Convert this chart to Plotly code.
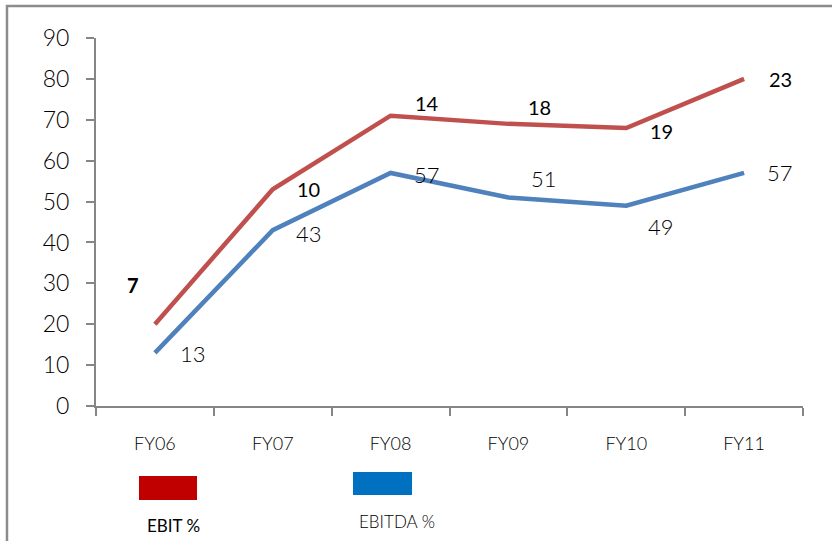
import plotly.graph_objects as go

categories = ["FY06", "FY07", "FY08", "FY09", "FY10", "FY11"]
ebit_values = [20, 53, 71, 69, 68, 80]
ebit_labels = ["7", "10", "14", "18", "19", "23"]
ebitda_values = [13, 43, 57, 51, 49, 57]
ebitda_labels = ["13", "43", "57", "51", "49", "57"]
y_ticks = [0, 10, 20, 30, 40, 50, 60, 70, 80, 90]

RED = "#C0504D"
BLUE = "#4F81BD"
FONT = "Lato, 'Open Sans', sans-serif"

fig = go.Figure()
fig.add_trace(go.Scatter(x=categories, y=ebit_values, mode="lines",
                         line=dict(color=RED, width=4.5), name="EBIT %", hoverinfo="skip"))
fig.add_trace(go.Scatter(x=categories, y=ebitda_values, mode="lines",
                         line=dict(color=BLUE, width=4.5), name="EBITDA %", hoverinfo="skip"))

# label offsets (pixels) relative to the data point
ebit_shift = [(-22, 39), (36, 0), (36, 13), (31, 17), (35, -3), (36, 0)]
ebitda_shift = [(38, -1), (36, -3), (36, -2), (36, 19), (35, -21), (36, 0)]

annotations = []
for i, (c, v, t, (dx, dy)) in enumerate(zip(categories, ebit_values, ebit_labels, ebit_shift)):
    annotations.append(dict(x=c, y=v, text=t, showarrow=False, xshift=dx, yshift=dy,
                            font=dict(family=FONT, size=20, color="#000",
                                      weight=700 if i == 0 else 400),
                            xanchor="center", yanchor="middle"))
for c, v, t, (dx, dy) in zip(categories, ebitda_values, ebitda_labels, ebitda_shift):
    annotations.append(dict(x=c, y=v, text=t, showarrow=False, xshift=dx, yshift=dy,
                            font=dict(family=FONT, size=22, color="#000", weight=300),
                            xanchor="center", yanchor="middle"))

# legend texts
annotations.append(dict(xref="paper", yref="paper", x=0.109, y=-0.3234, text="EBIT %",
                        showarrow=False, font=dict(family=FONT, size=17, color="#000", weight=400),
                        xanchor="center", yanchor="middle"))
annotations.append(dict(xref="paper", yref="paper", x=0.4257, y=-0.3125, text="EBITDA %",
                        showarrow=False, font=dict(family=FONT, size=17, color="#000", weight=300),
                        xanchor="center", yanchor="middle"))

shapes = [
    dict(type="rect", xref="paper", yref="paper", x0=0.0608, x1=0.1429, y0=-0.2554, y1=-0.1902,
         fillcolor="#C00000", line=dict(width=0)),
    dict(type="rect", xref="paper", yref="paper", x0=0.3635, x1=0.447, y0=-0.2418, y1=-0.1793,
         fillcolor="#0070C0", line=dict(width=0)),
    dict(type="rect", xref="paper", yref="paper", x0=-0.1259, x1=1.2, y0=-0.6, y1=1.087,
         fillcolor="rgba(0,0,0,0)", line=dict(color="#8C8C8C", width=2.5), layer="below"),
]

fig.update_layout(
    width=832, height=541,
    margin=dict(l=96, r=29, t=38, b=135),
    paper_bgcolor="white", plot_bgcolor="white",
    showlegend=False,
    hovermode=False,
    annotations=annotations,
    shapes=shapes,
    xaxis=dict(type="category", range=[-0.5, 5.5], showgrid=False, zeroline=False,
               automargin=False,
               showline=True, linecolor="#868686", linewidth=2,
               ticks="outside", tickson="boundaries", ticklen=8, tickcolor="#868686", tickwidth=2,
               tickfont=dict(family=FONT, size=18, color="#000", weight=300), ticklabelstandoff=20),
    yaxis=dict(range=[0, 90], tickvals=y_ticks, showgrid=False, zeroline=False,
               automargin=False,
               showline=True, linecolor="#868686", linewidth=2,
               ticks="outside", ticklen=8, tickcolor="#868686", tickwidth=2,
               tickfont=dict(family=FONT, size=23, color="#000", weight=300), ticklabelstandoff=12),
)

fig.write_html("out.html", config={"displayModeBar": False, "staticPlot": True},
               post_script="document.body.style.margin='0';document.body.style.overflow='hidden';")
